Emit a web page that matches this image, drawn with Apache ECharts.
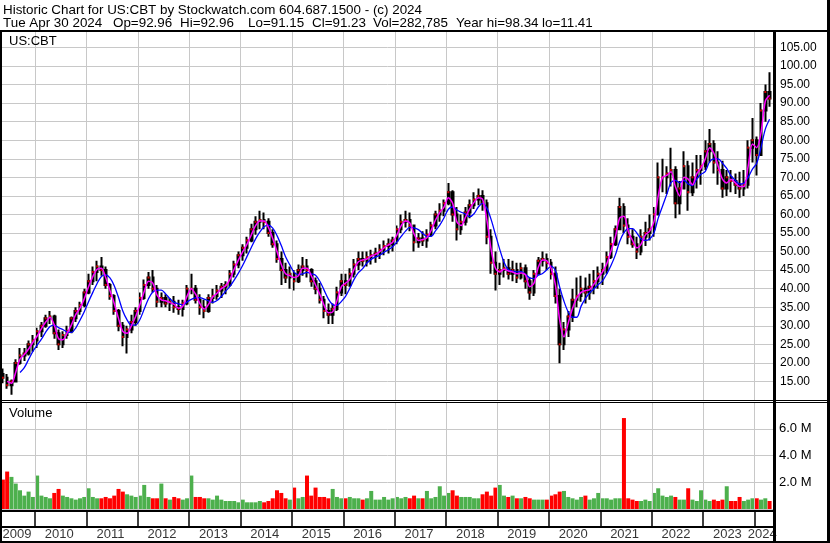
<!DOCTYPE html>
<html><head><meta charset="utf-8">
<script src="https://cdn.jsdelivr.net/npm/echarts@6/dist/echarts.min.js"></script>
<style>html,body{margin:0;padding:0;background:#fff}#c{width:830px;height:543px}</style>
</head><body><div id="c"></div>
<script>
// ---- data (monthly, May 2009 .. Apr 2024) ----
const years = [2009,2010,2011,2012,2013,2014,2015,2016,2017,2018,2019,2020,2021,2022,2023,2024];
const firstMonth = 4;      // months since Jan 2009 (May 2009)
const firstOpen = 17;
const highs = [
 18.5,17,15.5,21,24,24,26,27.5,
 29.5,31,33,34,33,29,28.5,30,32.5,35,36.5,40,
 44,46,47.5,48.5,46,41.5,38.5,34.5,31,30,33,35,
 39,42.5,44.5,45,41,39,38.5,37.5,38,37,37,41,
 44,41,38.5,37,38.5,40,41,41.5,42,45,47.5,50,
 52,54,57.5,59.5,61,60.5,59,56,53,50,47,46,
 45,46.5,48.5,48,45.5,43,41.5,38,36,36,40.5,44,
 44,45.5,48,50,50,50,50.5,51,52,53,53.5,54,
 57,60,61,60.5,57,55,55.5,56,58,61,63,64,
 68.5,66.5,62,60,62,64,66,67,66.5,64,56,50,
 47,48,48,47.5,47,47,46.5,43,45,48.5,50,49.5,
 48,46,40,31,34,40,43,43.5,43,44,45,46,
 47,50,54,57,64.5,63,59,56,54,56,58,60,
 62,74,75,73,78,73,69,77,74.5,74,76,76,
 80,83,80,77,74.5,72,72,71,71.5,72,80,86,
 81,90,95,98.34];
const lows = [
 14.5,13,11.41,15,19.5,20.5,22,23,
 24,27,29.5,30.5,26.5,23.5,24,26.5,28,31,33,35,
 38.5,41,42,43.5,40,37,33,28.5,24.5,22.5,28,30,
 33,37,40,39,35,35,35,34,33.5,33,32.5,35.5,
 38.5,36,33,32,33.5,36,37,37.5,38.5,40.5,43,45.5,
 47.5,49.5,52.5,54.5,56,56,54,51,47,41,41.5,40,
 39.5,41.5,43.5,43,40.5,38.5,36,32,30.5,30.5,34,38,
 38.5,40.5,43,45,46,46,46.5,47,48,49,49.5,50,
 52,55,56.5,55.5,50,51,51.5,51,54,56,58,59.5,
 62.5,58,53,54.5,57,59,61.5,62.5,61,52,44,39.5,
 41,43,42.5,42,41.5,42.5,40,37,38,44,46,45,
 42.5,36,19.9,23.5,27,31,35,36.5,36,37,38.5,40,
 41,44,48,51.5,56,55,52,51,48,49,51.5,53,
 54,60,66,65.5,67.5,59,60,67,61,65,67,68,
 72,74,71,68,64.5,65,66,65.5,64.5,65,67,74,
 70.5,76,85,89];
const closes = [
 16,14,15,20,22,22.5,25,26,
 28.5,30,32,32.5,28,25,27.5,28.5,32,34,35.5,39,
 42,44.5,46,45,41,38,34,30,27,29,31,34,
 37.5,41,43,40,36.5,37.5,36,36.5,35,34.5,36,40,
 40,37,35,34,37.5,38,39.5,40.5,41,44,46.5,49,
 51,53,56,58,58.5,58,55,52,48,45,43,44,
 42,45,46,45,42,40,37,34,33,34.5,39,42,
 41,44,46.5,48,47.5,48.5,49,49.5,50.5,51.5,52,53,
 56,58,58.5,57,52.5,53.5,53,54.5,57,60,61,63,
 66,60,56,58,60.5,62.5,64,65,63,54,47,44,
 45,45.5,44,45,43,45.5,42,39,44,47.5,48,47,
 44,38,25,29,32.5,37,38,40,39,40.5,42,44,
 45,48.5,52,56,62,57,54,52,50,54,55,56,
 60,70,70,71,72,63,67,73,66,70,72,73,
 77,79,74,72,67,70,69,68,67,68,78,80,
 76,88,93,91.23];
const volumes = [ // millions
 2.2,2.8,2.4,1.9,1.4,1.0,1.3,0.9,
 2.5,1.0,0.9,0.8,1.2,1.5,1.0,0.9,0.8,0.7,0.8,0.9,
 1.55,0.9,0.8,0.8,0.9,0.8,1.0,1.5,1.3,1.1,1.0,0.9,
 1.0,1.8,0.9,0.8,0.8,1.9,0.8,0.7,0.9,0.8,0.7,0.8,
 2.5,0.9,0.9,0.8,0.8,0.7,1.0,0.7,0.6,0.6,0.6,0.5,
 0.7,0.5,0.5,0.5,0.6,0.5,0.6,0.8,1.4,1.2,0.8,0.7,
 1.6,0.8,0.9,2.5,1.0,1.6,0.9,0.9,0.8,1.5,0.9,0.8,
 0.8,0.9,0.8,0.8,0.7,0.8,1.35,0.7,0.7,0.9,0.7,0.8,
 0.9,0.8,0.9,0.8,1.0,0.8,0.8,1.35,0.8,0.9,1.7,1.0,
 1.2,1.4,1.0,0.9,0.9,0.9,0.8,0.8,1.1,1.3,1.0,1.6,
 1.8,1.0,0.9,1.0,0.8,0.8,0.9,0.8,0.7,0.7,0.7,0.7,
 1.0,1.1,1.3,1.35,0.9,0.8,0.7,0.9,1.0,0.7,0.8,1.2,
 0.8,0.8,0.7,0.8,0.8,6.8,0.8,0.7,0.6,0.6,0.7,0.6,
 1.2,1.55,1.0,0.9,1.0,0.9,0.7,0.7,1.55,0.7,0.6,1.4,
 0.7,0.6,0.7,0.6,0.7,1.7,0.6,0.6,0.9,0.6,0.7,0.8,
 0.8,0.7,0.8,0.6];
const headerLine1 = 'Historic Chart for US:CBT by Stockwatch.com 604.687.1500 - (c) 2024';
const headerLine2 = ['Tue Apr 30 2024', 'Op=92.96', 'Hi=92.96', 'Lo=91.15', 'Cl=91.23', 'Vol=282,785', 'Year hi=98.34', 'lo=11.41'];
const symbolName = 'US:CBT';
const volumeTitle = 'Volume';

// ---- derived ----
const xMin = 4.295, xMax = 184.3;
const xs = closes.map((_, i) => firstMonth + i + 0.5);
const opens = closes.map((c, i) => i === 0 ? firstOpen : closes[i - 1]);
const candles = closes.map((c, i) => [xs[i], opens[i], c, lows[i], highs[i]]);
function sma(n) {
  const out = [];
  for (let i = n - 1; i < closes.length; i++) {
    let s = 0; for (let k = 0; k < n; k++) s += closes[i - k];
    out.push([xs[i], s / n]);
  }
  return out;
}
const volData = volumes.map((v, i) => ({value: [xs[i], v], itemStyle: {color: closes[i] >= opens[i] ? '#4db04d' : '#ff0000'}}));
const yearLines = years.slice(1).map(y => ({xAxis: (y - 2009) * 12}));
const yearLabels = years.map(y => {
  const s = Math.max(xMin, (y - 2009) * 12), e = Math.min(xMax, (y - 2008) * 12);
  return {value: [(s + e) / 2 - 0.35, 0], name: String(y)};
});

const FONT = '"Liberation Sans", Arial, sans-serif';
const HFONT = '13.4px ' + FONT;
const gridColor = '#c8c8c8';
const X = {type: 'value', min: xMin, max: xMax, show: false};
function gridMark(color, width) {
  return {silent: true, symbol: ['none', 'none'], label: {show: false}, animation: false,
          lineStyle: {color: color, width: width, type: 'solid'}, emphasis: {disabled: true}, data: yearLines};
}
const chart = echarts.init(document.getElementById('c'), null, {renderer: 'canvas'});
const blk = (x, y, w, h) => ({type: 'rect', z: 100, shape: {x, y, width: w, height: h}, style: {fill: '#000'}, silent: true});
const line2X = [3, 113, 180, 248, 312, 373, 456, 542];
const headerTexts = [{type: 'text', z: 100, style: {text: headerLine1, x: 3, y: 10, font: HFONT, fill: '#000', textVerticalAlign: 'middle'}}]
  .concat(headerLine2.map((t, i) => ({type: 'text', z: 100, style: {text: t, x: line2X[i], y: 23, font: HFONT, fill: '#000', textVerticalAlign: 'middle'}})));
chart.setOption({
  animation: false,
  backgroundColor: '#fff',
  grid: [
    {left: 2, top: 31, width: 771, height: 369},
    {left: 2, top: 402, width: 771, height: 107},
    {left: 2, top: 511, width: 771, height: 15},
    {left: 2, top: 528, width: 771, height: 13}
  ],
  xAxis: [0, 1, 2, 3].map(g => Object.assign({gridIndex: g}, X)),
  yAxis: [
    {gridIndex: 0, type: 'value', position: 'right', min: 10, max: 109.43, interval: 5,
     axisLine: {show: false}, axisTick: {show: false},
     splitLine: {lineStyle: {color: gridColor, width: 1}},
     axisLabel: {margin: 7, fontFamily: FONT, fontSize: 12, color: '#000',
       formatter: v => (v >= 15 && v <= 105) ? v.toFixed(2) : ''}},
    {gridIndex: 1, type: 'value', position: 'right', min: 0, max: 8, interval: 2,
     axisLine: {show: false}, axisTick: {show: false},
     splitLine: {lineStyle: {color: gridColor, width: 1}},
     axisLabel: {margin: 6, fontFamily: FONT, fontSize: 13, color: '#000',
       formatter: v => (v > 0 && v < 8) ? v.toFixed(1) + ' M' : ''}},
    {gridIndex: 2, type: 'value', min: 0, max: 1, show: false},
    {gridIndex: 3, type: 'value', min: -1, max: 1, show: false}
  ],
  graphic: headerTexts.concat([
    {type: 'text', z: 100, style: {text: symbolName, x: 9, y: 41.5, font: '13px ' + FONT, fill: '#000', textVerticalAlign: 'middle'}},
    {type: 'text', z: 100, style: {text: volumeTitle, x: 9, y: 413.5, font: '13px ' + FONT, fill: '#000', textVerticalAlign: 'middle'}},
    blk(0, 30, 830, 2),
    blk(0, 30, 2, 513),
    blk(0, 400, 830, 1),
    blk(0, 402, 830, 1),
    blk(0, 510, 775, 2),
    blk(0, 526, 775, 2),
    blk(0, 541, 830, 2),
    blk(773, 30, 3, 513),
    blk(827, 0, 3, 543)
  ]),
  series: [
    {type: 'line', xAxisIndex: 0, yAxisIndex: 0, data: [], z: 1, markLine: gridMark(gridColor, 1)},
    {type: 'line', xAxisIndex: 1, yAxisIndex: 1, data: [], z: 1, markLine: gridMark(gridColor, 1)},
    {type: 'line', xAxisIndex: 2, yAxisIndex: 2, data: [], z: 1, markLine: gridMark('#000', 1.5)},
    {type: 'candlestick', xAxisIndex: 0, yAxisIndex: 0, z: 3, data: candles,
     encode: {x: 0, y: [1, 2, 3, 4]}, barWidth: 2,
     itemStyle: {color: '#000', color0: '#000', borderColor: '#000', borderColor0: '#000', borderWidth: 2}},
    {type: 'scatter', xAxisIndex: 0, yAxisIndex: 0, z: 4, symbol: 'rect', symbolSize: [2, 2],
     data: closes.map((c, i) => [xs[i], c]), itemStyle: {color: '#ff0000'}},
    {type: 'line', xAxisIndex: 0, yAxisIndex: 0, z: 5, data: sma(5), showSymbol: false, smooth: 0.3,
     lineStyle: {color: '#0000ff', width: 1.3}},
    {type: 'line', xAxisIndex: 0, yAxisIndex: 0, z: 6, data: sma(2), showSymbol: false, smooth: 0.3,
     lineStyle: {color: '#ff00ff', width: 1.5}},
    {type: 'bar', xAxisIndex: 1, yAxisIndex: 1, z: 3, data: volData, barWidth: 4},
    {type: 'scatter', xAxisIndex: 3, yAxisIndex: 3, z: 5, symbolSize: 0, data: yearLabels,
     label: {show: true, position: 'inside', formatter: p => p.name, fontFamily: FONT, fontSize: 13, color: '#000'}}
  ]
});
</script></body></html>
